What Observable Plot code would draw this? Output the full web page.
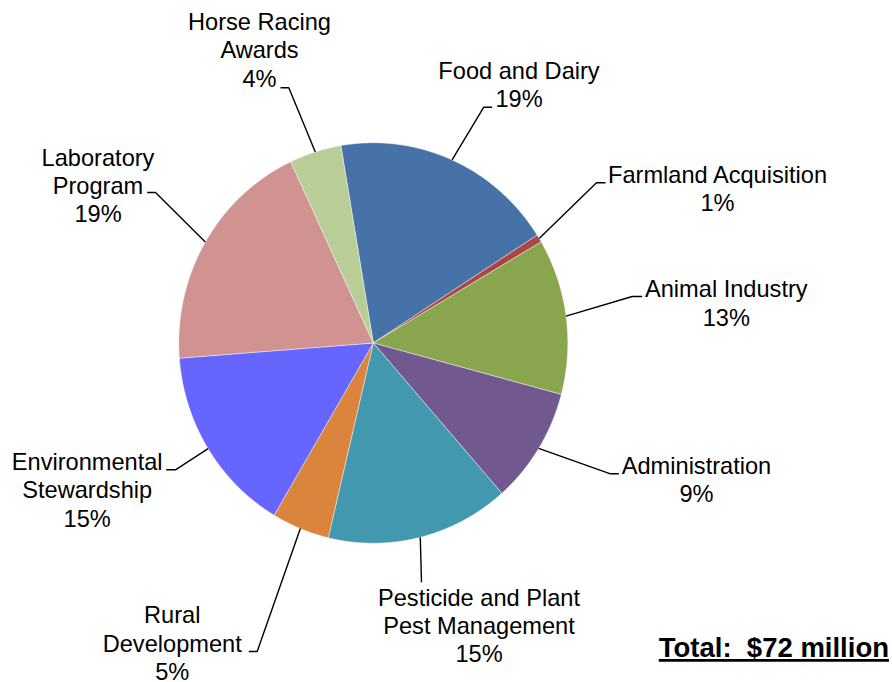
<!DOCTYPE html>
<html>
<head>
<meta charset="utf-8">
<script src="https://cdn.jsdelivr.net/npm/d3@7"></script>
<script src="https://cdn.jsdelivr.net/npm/@observablehq/plot@0.6"></script>
<style>
  html, body { margin: 0; padding: 0; background: #fff; }
  #chart { width: 892px; height: 682px; }
</style>
</head>
<body>
<div id="chart"></div>
<script>
// ---- Data ----
const categories = [
  "Food and Dairy", "Farmland Acquisition", "Animal Industry", "Administration",
  "Pesticide and Plant Pest Management", "Rural Development",
  "Environmental Stewardship", "Laboratory Program", "Horse Racing Awards"
];
const labelLines = [
  ["Food and Dairy"], ["Farmland Acquisition"], ["Animal Industry"], ["Administration"],
  ["Pesticide and Plant", "Pest Management"], ["Rural", "Development"],
  ["Environmental", "Stewardship"], ["Laboratory", "Program"], ["Horse Racing", "Awards"]
];
// budget in $ millions (total $72 million)
const valuesMillions = [13.4, 0.45, 9.05, 6.75, 10.95, 3.45, 11.0, 13.85, 3.1];
const sliceColors = [
  "#4672A8", "#AA4643", "#89A54E", "#71588F", "#4198AF",
  "#DB843D", "#6666FF", "#D19392", "#B9CD96"
];
const totalLabel = "Total:  $72 million";

// ---- Layout (pixel units of the chart frame) ----
const W = 892, H = 682;
const pie = {cx: 372.8, cy: 342.5, rx: 194.5, ry: 200.2, startDeg: -9.6};
const fontSize = 23.6, lineHeight = 28.4;
// label block: center x, first baseline y
const labelAnchor = [
  [518.5, 78.3], [717, 182.3], [725.8, 296.7], [696, 473.3],
  [478.5, 605], [171.7, 622.7], [86.7, 469.3], [97.5, 165], [259, 29.2]
];
// leader line: elbow point and end of short horizontal tick (null = no tick)
const leaderElbow = [
  [483.3, 106.7], [596, 182.3], [631.7, 296], [610, 473.3],
  [421, 581.7], [256.7, 651], [175, 469.3], [155, 192], [288.3, 87.3]
];
const leaderTick = [
  [491.7, 106.7], [605, 182.3], [641.7, 296], [618.3, 473.3],
  null, [248.3, 651], [165.7, 469.3], [146.7, 192], [280, 87.3]
];
const totalPos = [888.5, 656.5];

// ---- Build tables ----
const total = d3.sum(valuesMillions);
const start = pie.startDeg * Math.PI / 180;
const arcs = d3.pie().sort(null).startAngle(start).endAngle(start + 2 * Math.PI)(valuesMillions);
const px = a => pie.cx + pie.rx * Math.sin(a);
const py = a => pie.cy - pie.ry * Math.cos(a);

const slicePts = [];
arcs.forEach((a, i) => {
  const name = categories[i];
  slicePts.push({name, x: pie.cx, y: pie.cy});
  const n = Math.max(2, Math.ceil((a.endAngle - a.startAngle) / (Math.PI / 360)));
  for (let k = 0; k <= n; k++) {
    const t = a.startAngle + (a.endAngle - a.startAngle) * k / n;
    slicePts.push({name, x: px(t), y: py(t)});
  }
  slicePts.push({name, x: pie.cx, y: pie.cy});
});

const leaderPts = [];
arcs.forEach((a, i) => {
  const name = categories[i];
  const mid = (a.startAngle + a.endAngle) / 2;
  leaderPts.push({name, x: px(mid), y: py(mid)});
  leaderPts.push({name, x: leaderElbow[i][0], y: leaderElbow[i][1]});
  if (leaderTick[i]) leaderPts.push({name, x: leaderTick[i][0], y: leaderTick[i][1]});
});

const textRows = [];
categories.forEach((c, i) => {
  const lines = [...labelLines[i], Math.round(valuesMillions[i] / total * 100) + "%"];
  lines.forEach((t, j) => textRows.push({text: t, x: labelAnchor[i][0], y: labelAnchor[i][1] + j * lineHeight}));
});

const chart = Plot.plot({
  width: W, height: H, margin: 0,
  x: {domain: [0, W], range: [0, W], axis: null},
  y: {domain: [0, H], range: [0, H], axis: null},
  color: {domain: categories, range: sliceColors},
  style: {fontFamily: "'Liberation Sans', Arial, sans-serif", background: "#fff", color: "#000"},
  marks: [
    Plot.line(slicePts, {x: "x", y: "y", z: "name", fill: "name", stroke: "#fff", strokeWidth: 0.6, strokeOpacity: 0.7, curve: "linear"}),
    Plot.line(leaderPts, {x: "x", y: "y", z: "name", stroke: "#000", strokeWidth: 1.4, strokeLinecap: "butt", strokeLinejoin: "miter", curve: "linear"}),
    Plot.text(textRows, {x: "x", y: "y", text: "text", textAnchor: "middle", lineAnchor: "bottom", fontSize, fill: "#000"}),
    Plot.text([totalLabel], {x: () => totalPos[0], y: () => totalPos[1], text: d => d, textAnchor: "end", lineAnchor: "bottom", fontSize: 27.5, fontWeight: "bold", fill: "#000"})
  ]
});
chart.querySelectorAll("text").forEach(t => {
  if (t.textContent.startsWith("Total")) {
    t.style.textDecoration = "underline";
    t.style.whiteSpace = "pre";
  }
});
document.getElementById("chart").appendChild(chart);
</script>
</body>
</html>
